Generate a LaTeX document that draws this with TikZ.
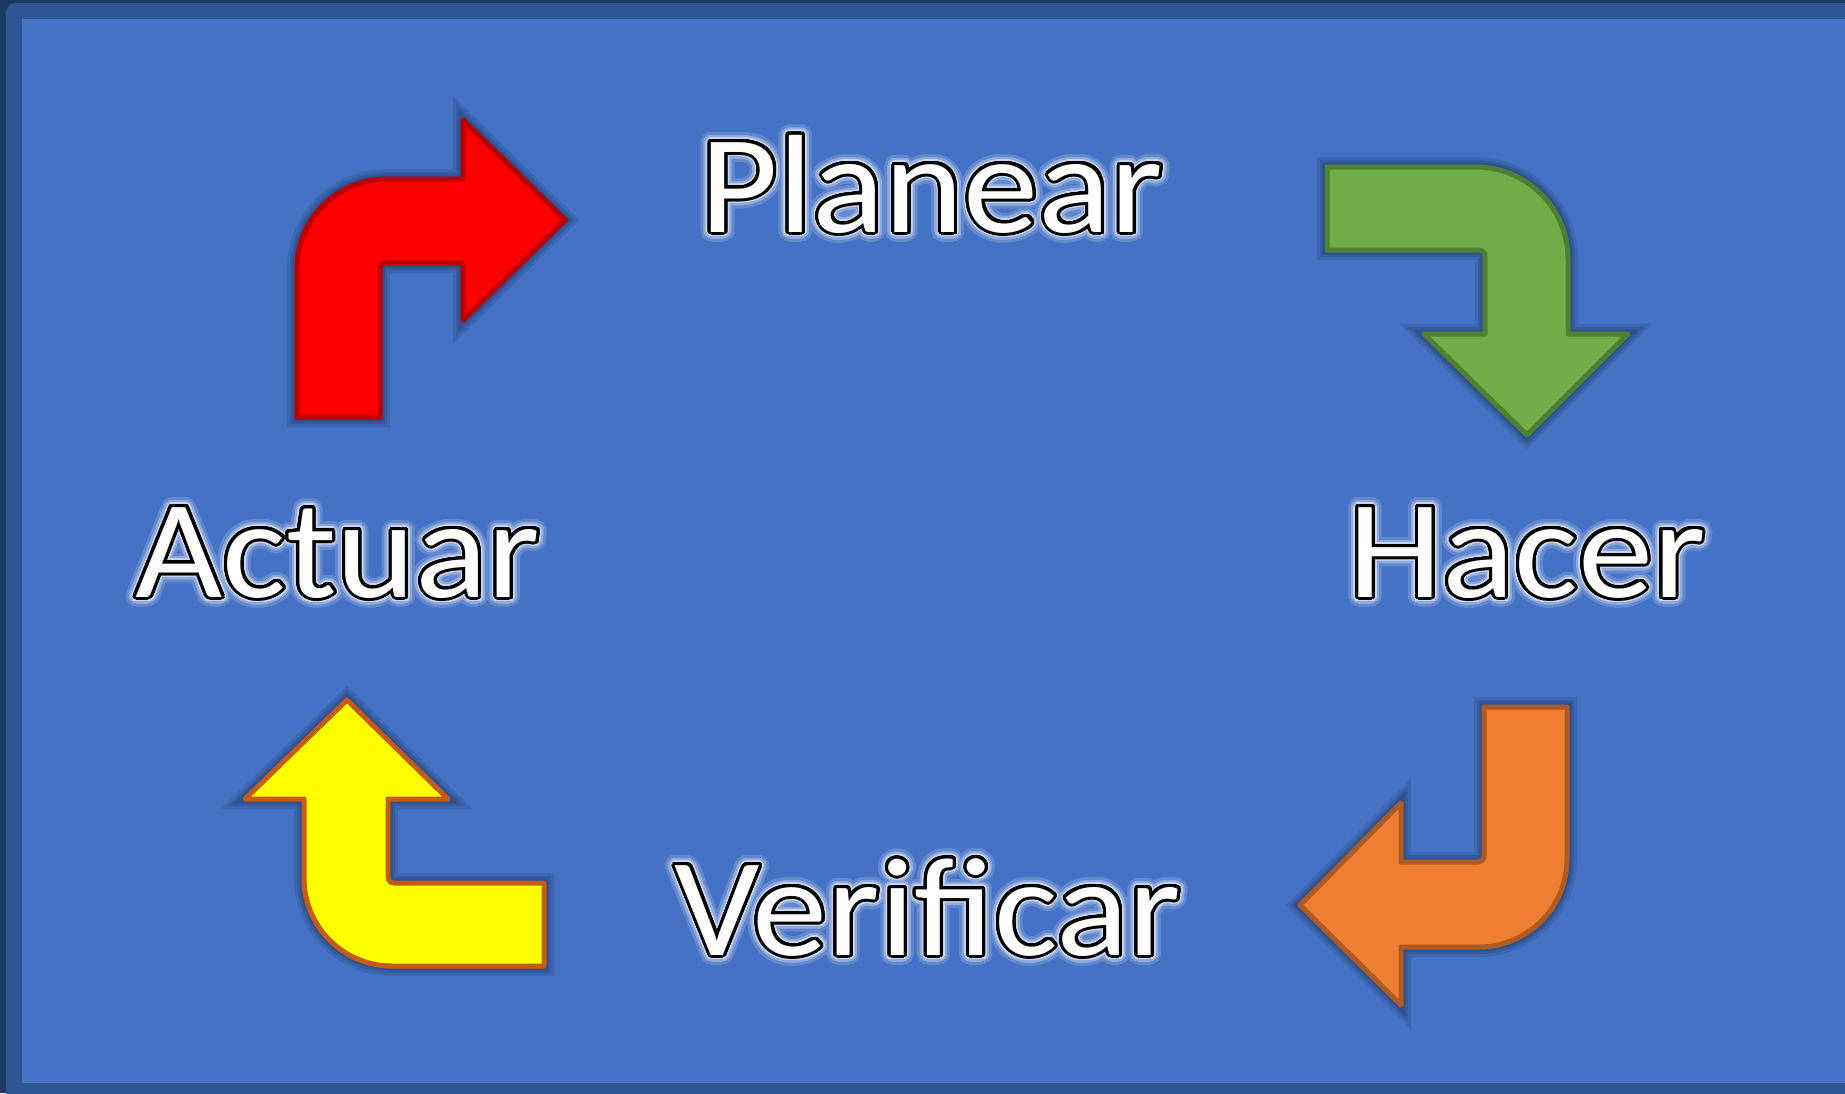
\documentclass[tikz,border=0pt]{standalone}
\usepackage{fontspec}
\setmainfont[FakeStretch=1.075]{Carlito}
\usepackage{contour}
\definecolor{navy}{HTML}{1F3864}
\definecolor{band}{HTML}{2F5597}
\definecolor{slide}{HTML}{4472C4}
\definecolor{glowA}{HTML}{6288CE}
\definecolor{glowB}{HTML}{8EAADD}
\definecolor{glowC}{HTML}{C4D3EE}
\definecolor{redF}{HTML}{FF0000}
\definecolor{redD}{HTML}{C00000}
\definecolor{grnF}{HTML}{70AD47}
\definecolor{grnD}{HTML}{507E32}
\definecolor{orgF}{HTML}{ED7D31}
\definecolor{orgD}{HTML}{AE5A21}
\definecolor{yelF}{HTML}{FFFF00}
\definecolor{yelD}{HTML}{C55A11}
\newcommand{\glowword}[1]{%
 \makebox[0pt][l]{\contourlength{10pt}\contour[48]{glowA}{\textcolor{glowA}{#1}}}%
 \makebox[0pt][l]{\contourlength{7pt}\contour[40]{glowB}{\textcolor{glowB}{#1}}}%
 \makebox[0pt][l]{\contourlength{4.8pt}\contour[32]{glowC}{\textcolor{glowC}{#1}}}%
 {\contourlength{3pt}\contour[32]{black}{\textcolor{white}{#1}}}}
\tikzset{
  word/.style={inner sep=0pt, anchor=base, font=\fontsize{140}{160}\selectfont},
  bentarrow/.style={line width=5, line join=round,
    preaction={draw=navy, line width=20, draw opacity=0.18},
    preaction={draw=navy, line width=14, draw opacity=0.22},
    preaction={draw=navy, line width=9, draw opacity=0.3}},
}
\begin{document}
\begin{tikzpicture}[x=1pt,y=-1pt]
\useasboundingbox (0,0) rectangle (1845,1093);
% frame
\fill[navy] (0,0) rectangle (1845,1093);
\fill[band, rounded corners=10] (6,3) rectangle (1870,1120);
\fill[slide] (22,19) rectangle (1845,1083);
% red arrow (Actuar -> Planear)
\draw[bentarrow, fill=redF, draw=redD]
  (297,417) -- (297,269) arc[start angle=180, end angle=270, radius=90]
  -- (463,179) -- (463,120) -- (565,220) -- (463,320) -- (463,263)
  -- (386,263) arc[start angle=270, end angle=180, radius=6]
  -- (380,417) -- cycle;
% green arrow (Planear -> Hacer)
\draw[bentarrow, fill=grnF, draw=grnD]
  (1327,167) -- (1476,167) arc[start angle=270, end angle=360, radius=92]
  -- (1568,334) -- (1628,334) -- (1527,435) -- (1424,334) -- (1485,334)
  -- (1485,256) arc[start angle=0, end angle=-90, radius=6]
  -- (1327,250) -- cycle;
% orange arrow (Hacer -> Verificar)
\draw[bentarrow, fill=orgF, draw=orgD]
  (1484,707) -- (1567,707) -- (1567,859) arc[start angle=0, end angle=90, radius=88]
  -- (1401,947) -- (1401,1005) -- (1300,905) -- (1401,803) -- (1401,862)
  -- (1478,862) arc[start angle=90, end angle=0, radius=6]
  -- cycle;
% yellow arrow (Verificar -> Actuar)
\draw[bentarrow, fill=yelF, draw=yelD]
  (544,883) -- (544,966) -- (392,966) arc[start angle=90, end angle=180, radius=88]
  -- (304,799) -- (245,799) -- (347,700) -- (448,799) -- (388,799)
  -- (388,877) arc[start angle=180, end angle=90, radius=6]
  -- cycle;
% labels
\node[word] (planear) at (932,232) {\glowword{Planear}};
\node[word] (actuar) at (338,597) {\glowword{Actuar}};
\node[word] (hacer) at (1527,597) {\glowword{Hacer}};
\node[word] (verificar) at (928,955) {\glowword{Verificar}};
\end{tikzpicture}
\end{document}
